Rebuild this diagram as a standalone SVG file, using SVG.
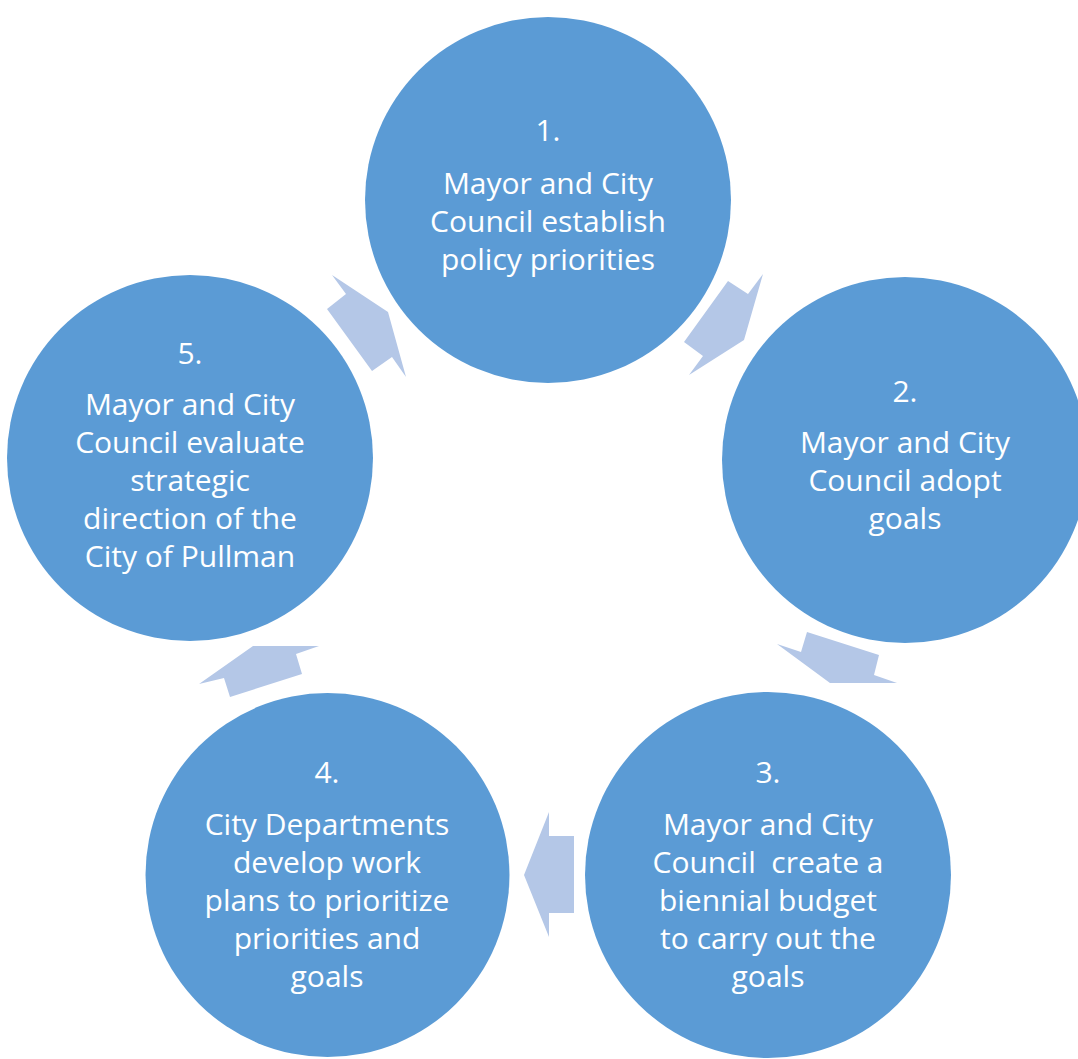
<svg xmlns="http://www.w3.org/2000/svg" width="1078" height="1059" viewBox="0 0 1078 1059">
<style>
.node circle{fill:#5B9BD5}
.node text{fill:#FFFFFF;font-family:"Open Sans","Liberation Sans",sans-serif;font-size:30px;text-anchor:middle}
.arr{fill:#B4C7E7}
</style>
<rect width="1078" height="1059" fill="#FFFFFF"/>
<g id="connectors">
<polygon class="arr" points="332,275 346,294 327,309 372,371 392,357 406,377 388,312"/>
<polygon class="arr" points="728,281 748,294 763,274 744,340 689,375 703,356 684,342"/>
<polygon class="arr" points="807,632 879,655 874,675 897,683 830,683 777,644 801,652"/>
<polygon class="arr" points="549,812 549,836 574,836 574,913 549,913 549,937 524,875"/>
<polygon class="arr" points="253,646 319,646 296,654 302,674 230,697 224,678 199,684"/>
</g>
<g id="node1" class="node">
<circle cx="548" cy="200" r="183"/>
<text x="548" y="141">1.</text>
<text x="548" y="194">Mayor and City</text>
<text x="548" y="232">Council establish</text>
<text x="548" y="270">policy priorities</text>
</g>
<g id="node2" class="node">
<circle cx="905" cy="460" r="183"/>
<text x="905" y="402">2.</text>
<text x="905" y="453">Mayor and City</text>
<text x="905" y="491">Council adopt</text>
<text x="905" y="529">goals</text>
</g>
<g id="node3" class="node">
<circle cx="768" cy="875" r="183"/>
<text x="768" y="783">3.</text>
<text x="768" y="835">Mayor and City</text>
<text x="768" y="873" xml:space="preserve">Council  create a</text>
<text x="768" y="911">biennial budget</text>
<text x="768" y="949">to carry out the</text>
<text x="768" y="987">goals</text>
</g>
<g id="node4" class="node">
<circle cx="327.5" cy="875" r="182"/>
<text x="327" y="783">4.</text>
<text x="327" y="835">City Departments</text>
<text x="327" y="873">develop work</text>
<text x="327" y="911">plans to prioritize</text>
<text x="327" y="949">priorities and</text>
<text x="327" y="987">goals</text>
</g>
<g id="node5" class="node">
<circle cx="190" cy="458" r="183"/>
<text x="190" y="364">5.</text>
<text x="190" y="415">Mayor and City</text>
<text x="190" y="453">Council evaluate</text>
<text x="190" y="491">strategic</text>
<text x="190" y="529">direction of the</text>
<text x="190" y="567">City of Pullman</text>
</g>
</svg>
